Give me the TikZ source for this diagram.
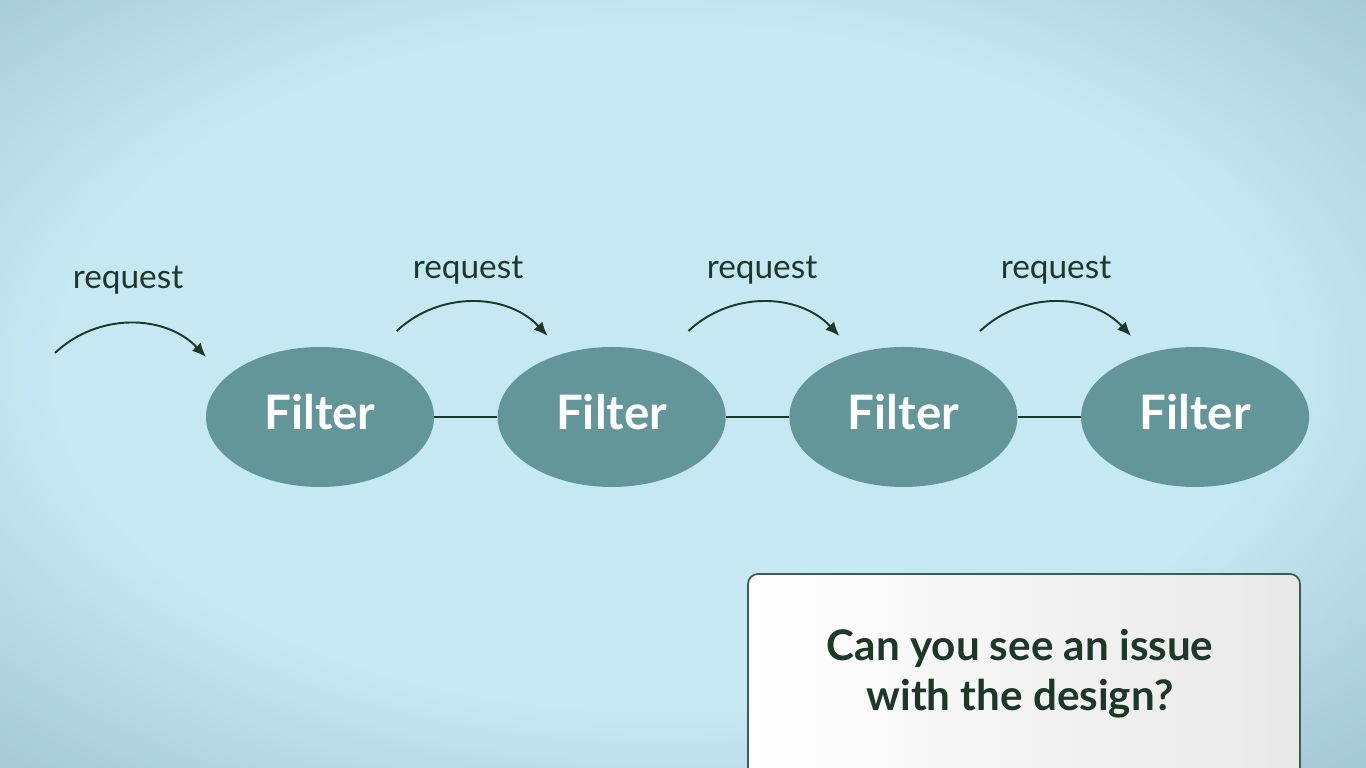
\documentclass[tikz,border=0pt]{standalone}
\usepackage{fontspec}
\setmainfont{Lato}
\usetikzlibrary{arrows.meta,positioning,shapes.geometric,calc}
\definecolor{bgcenter}{RGB}{198,232,243}
\definecolor{bgcorner}{RGB}{164,200,212}
\definecolor{filtercolor}{RGB}{99,150,153}
\definecolor{inkcolor}{RGB}{28,56,40}
\definecolor{boxline}{RGB}{62,92,82}

\begin{document}
\begin{tikzpicture}[
    node distance=1.26cm,
    filter/.style={ellipse, fill=filtercolor, minimum width=4.56cm, minimum height=2.8cm, text depth=0.2cm, text=white, font=\fontsize{27}{32}\selectfont\bfseries},
    link/.style={draw=inkcolor, line width=1.1pt},
    flow/.style={-{Latex[length=0.28cm,width=0.24cm]}, draw=inkcolor, line width=1.1pt},
    reqlabel/.style={text=inkcolor, font=\fontsize{19}{23}\selectfont}
]
% background with soft vignette
\useasboundingbox (0,0) rectangle (27.32,15.36);
\clip (0,0) rectangle (27.32,15.36);
\fill[bgcorner] (0,0) rectangle (27.32,15.36);
\foreach \i [evaluate=\i as \p using 100*\i/39, evaluate=\i as \f using 1.45-0.55*\i/39] in {0,...,39}
    \fill[bgcenter!\p!bgcorner] (13.3,8.0) ellipse ({13.66*\f} and {7.68*\f});

% filter chain
\node[filter] (f1) at (6.40,7.02) {Filter};
\node[filter, right=of f1] (f2) {Filter};
\node[filter, right=of f2] (f3) {Filter};
\node[filter, right=of f3] (f4) {Filter};

\draw[link] (f1) -- (f2);
\draw[link] (f2) -- (f3);
\draw[link] (f3) -- (f4);

% request arrows
\coordinate (s1) at ($(f1)+(-5.30,1.28)$);
\coordinate (e1) at ($(f1)+(-2.28,1.20)$);
\coordinate (s2) at ($(f2)+(-4.30,1.72)$);
\coordinate (e2) at ($(f2)+(-1.28,1.62)$);
\coordinate (s3) at ($(f3)+(-4.30,1.72)$);
\coordinate (e3) at ($(f3)+(-1.28,1.62)$);
\coordinate (s4) at ($(f4)+(-4.30,1.72)$);
\coordinate (e4) at ($(f4)+(-1.28,1.62)$);

\draw[flow] (s1) to[bend left=45] (e1);
\draw[flow] (s2) to[bend left=45] (e2);
\draw[flow] (s3) to[bend left=45] (e3);
\draw[flow] (s4) to[bend left=45] (e4);

\node[reqlabel] (r1) at (2.56,9.76) {request};
\node[reqlabel] (r2) at (9.36,9.96) {request};
\node[reqlabel] (r3) at (15.24,9.96) {request};
\node[reqlabel] (r4) at (21.12,9.96) {request};

% question box
\shade[left color=white, right color=black!9, draw=boxline, line width=1pt, rounded corners=0.2cm] (14.96,-0.6) rectangle (26.00,3.88);
\node[text=inkcolor, align=center, font=\fontsize{24}{28.5}\selectfont\bfseries] (question) at (20.40,1.88) {Can you see an issue\\with the design?};
\end{tikzpicture}
\end{document}
